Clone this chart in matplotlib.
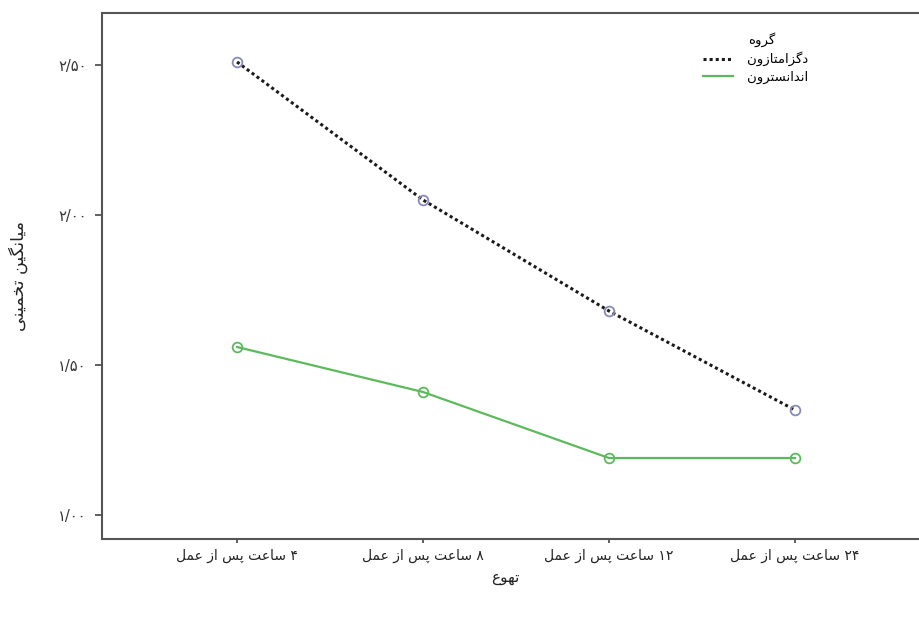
import matplotlib
matplotlib.use("Agg")
import matplotlib.pyplot as plt
from matplotlib.ticker import FuncFormatter
from matplotlib.lines import Line2D

# ---- data ----
time_labels = ["۴ ساعت پس از عمل", "۸ ساعت پس از عمل",
               "۱۲ ساعت پس از عمل", "۲۴ ساعت پس از عمل"]
dexa_means = [2.51, 2.05, 1.68, 1.35]
onda_means = [1.56, 1.41, 1.19, 1.19]
group_names = ["دگزامتازون", "اندانسترون"]
y_ticks = [1.0, 1.5, 2.0, 2.5]
x_title = "تهوع"
y_title = "میانگین تخمینی"
legend_title = "گروه"

# ---- tiny Persian shaper (matplotlib 3.10 has no bidi/shaping) ----
FORMS = {
    'ا': (0xFE8D, 0xFE8E, None, None), 'آ': (0xFE81, 0xFE82, None, None),
    'ب': (0xFE8F, 0xFE90, 0xFE91, 0xFE92), 'پ': (0xFB56, 0xFB57, 0xFB58, 0xFB59),
    'ت': (0xFE95, 0xFE96, 0xFE97, 0xFE98), 'ث': (0xFE99, 0xFE9A, 0xFE9B, 0xFE9C),
    'ج': (0xFE9D, 0xFE9E, 0xFE9F, 0xFEA0), 'چ': (0xFB7A, 0xFB7B, 0xFB7C, 0xFB7D),
    'ح': (0xFEA1, 0xFEA2, 0xFEA3, 0xFEA4), 'خ': (0xFEA5, 0xFEA6, 0xFEA7, 0xFEA8),
    'د': (0xFEA9, 0xFEAA, None, None), 'ذ': (0xFEAB, 0xFEAC, None, None),
    'ر': (0xFEAD, 0xFEAE, None, None), 'ز': (0xFEAF, 0xFEB0, None, None),
    'ژ': (0xFB8A, 0xFB8B, None, None),
    'س': (0xFEB1, 0xFEB2, 0xFEB3, 0xFEB4), 'ش': (0xFEB5, 0xFEB6, 0xFEB7, 0xFEB8),
    'ع': (0xFEC9, 0xFECA, 0xFECB, 0xFECC), 'غ': (0xFECD, 0xFECE, 0xFECF, 0xFED0),
    'ف': (0xFED1, 0xFED2, 0xFED3, 0xFED4), 'ق': (0xFED5, 0xFED6, 0xFED7, 0xFED8),
    'ک': (0xFB8E, 0xFB8F, 0xFB90, 0xFB91), 'گ': (0xFB92, 0xFB93, 0xFB94, 0xFB95),
    'ل': (0xFEDD, 0xFEDE, 0xFEDF, 0xFEE0), 'م': (0xFEE1, 0xFEE2, 0xFEE3, 0xFEE4),
    'ن': (0xFEE5, 0xFEE6, 0xFEE7, 0xFEE8), 'و': (0xFEED, 0xFEEE, None, None),
    'ه': (0xFEE9, 0xFEEA, 0xFEEB, 0xFEEC), 'ی': (0xFBFC, 0xFBFD, 0xFBFE, 0xFBFF),
}


def shape_word(word):
    out = []
    for i, c in enumerate(word):
        if c not in FORMS:
            out.append(c)
            continue
        iso, fin, ini, med = FORMS[c]
        prev = word[i - 1] if i > 0 else None
        nxt = word[i + 1] if i + 1 < len(word) else None
        join_prev = prev in FORMS and FORMS[prev][2] is not None
        join_next = nxt in FORMS and ini is not None
        if join_prev and join_next:
            code = med
        elif join_prev:
            code = fin
        elif join_next:
            code = ini
        else:
            code = iso
        out.append(chr(code))
    return "".join(out)


def fa(text):
    # shape each word, then lay the words out right to left
    words = []
    for w in text.split(" "):
        if all(ch in "۰۱۲۳۴۵۶۷۸۹/" for ch in w):
            words.append(w)
        else:
            words.append(shape_word(w)[::-1])
    return " ".join(words[::-1])


def fa_num(v, pos=None):
    s = f"{v:.2f}".replace(".", "/")
    return s.translate(str.maketrans("0123456789", "۰۱۲۳۴۵۶۷۸۹"))


plt.rcParams['font.family'] = ['DejaVu Sans']

fig = plt.figure(figsize=(9.19, 6.21), dpi=100)
ax = fig.add_axes([0.111, 0.132, 0.901, 0.847])

x = list(range(len(time_labels)))
ax.plot(x, dexa_means, color='#1a1a1a', lw=2.2, linestyle=(0, (1, 1)),
        marker='o', markersize=7, markerfacecolor='none',
        markeredgecolor='#8a8ab8', markeredgewidth=1.3, zorder=3)
ax.plot(x, onda_means, color='#5cba5c', lw=1.6, linestyle='-',
        marker='o', markersize=7, markerfacecolor='none',
        markeredgecolor='#5cba5c', markeredgewidth=1.3, zorder=3)

ax.set_xlim(-0.726, 3.726)
ax.set_ylim(0.92, 2.673)
ax.set_xticks(x)
ax.set_xticklabels([fa(t) for t in time_labels], fontsize=10, color='#222222')
ax.set_yticks(y_ticks)
ax.yaxis.set_major_formatter(FuncFormatter(fa_num))
ax.tick_params(axis='y', labelsize=10.5, labelcolor='#333333', length=5,
               width=1.2, color='#444444', pad=6)
ax.tick_params(axis='x', length=3, width=1.2, color='#444444', pad=4)

for side in ['left', 'bottom', 'top']:
    ax.spines[side].set_color('#555555')
    ax.spines[side].set_linewidth(1.5)
ax.spines['right'].set_visible(False)

ax.set_xlabel(fa(x_title), fontsize=11, color='#222222')
ax.xaxis.set_label_coords(0.487, -0.058)
ax.set_ylabel(fa(y_title), fontsize=12.5, color='#222222', labelpad=22)

handles = [
    Line2D([], [], color='#1a1a1a', lw=2.2, linestyle=(0, (1, 1))),
    Line2D([], [], color='#5cba5c', lw=1.6),
]
leg = ax.legend(handles, [fa(g) for g in group_names], title=fa(legend_title),
                loc='upper left', bbox_to_anchor=(0.765, 0.948),
                bbox_transform=fig.transFigure, frameon=False, fontsize=9.5,
                title_fontsize=9.5, handlelength=2.3, handletextpad=1.0,
                labelspacing=0.35, borderpad=0, borderaxespad=0)
leg.get_title().set_position((6, 0))

fig.savefig("out.png", dpi=100)
